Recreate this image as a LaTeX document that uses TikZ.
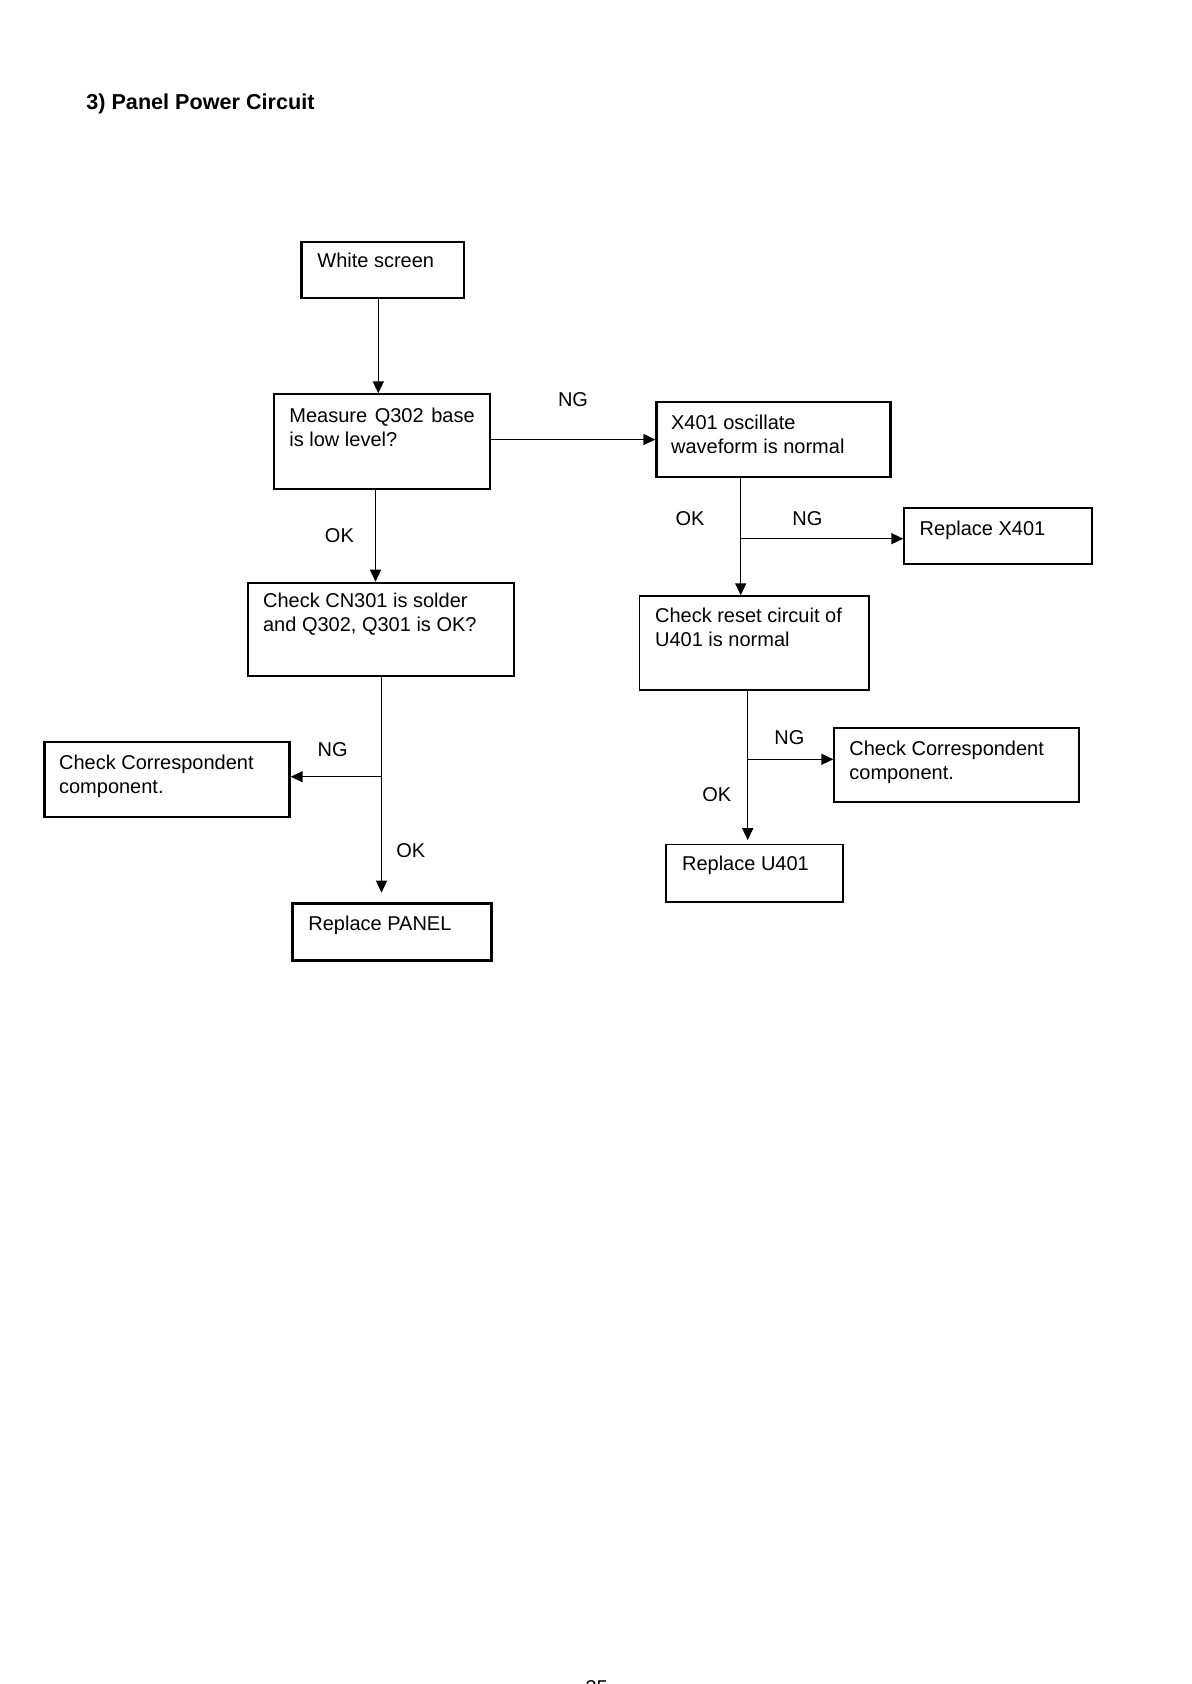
\documentclass[tikz,border=0pt]{standalone}
\usepackage{fontspec}
\setmainfont{Liberation Sans}
\usetikzlibrary{arrows.meta}
\begin{document}
\begin{tikzpicture}[x=0.5pt,y=-0.5pt,
 box/.style={draw, line width=0.7pt, inner sep=0pt, anchor=north west},
 medbox/.style={box, line width=0.9pt},
 thickbox/.style={box, line width=1.2pt},
 txt/.style={anchor=base west, inner sep=0pt, font=\fontsize{10}{12}\selectfont, align=left},
 lbl/.style={anchor=base, inner sep=0pt, font=\fontsize{10}{12}\selectfont},
 arr/.style={line width=0.75pt, -{Triangle[length=6pt,width=5.5pt]}}]
\useasboundingbox (0,0) rectangle (1191,1684);

\node[anchor=base west, inner sep=0pt, font=\fontsize{10.8}{13}\selectfont\bfseries] (title) at (86,109.3) {3) Panel Power Circuit};

% boxes (multi-line texts are placed by the baseline of their last line)
\node[thickbox, minimum width=81.35pt, minimum height=28.15pt] (ws) at (300.3,240.7) {};
\node[txt] (ws-t) at (317,268) {White screen};

\node[box, minimum width=108pt, minimum height=47.5pt] (meas) at (273.3,393.3) {};
\node[txt] (meas-t) at (289,446) {Measure\hspace{3.8pt}Q302\hspace{3.8pt}base\\is low level?};

\node[thickbox, minimum width=117pt, minimum height=37.65pt] (x401) at (655.3,400.7) {};
\node[txt] (x401-t) at (670.7,453) {X401 oscillate\\waveform is normal};

\node[medbox, minimum width=94pt, minimum height=28.3pt] (rx) at (903.3,506.7) {};
\node[txt] (rx-t) at (919.3,535) {Replace X401};

\node[box, minimum width=114.8pt, minimum height=47pt] (reset) at (638.7,595.3) {};
\node[txt] (reset-t) at (654.7,646.7) {Check reset circuit of\\U401 is normal};

\node[medbox, minimum width=133pt, minimum height=46.65pt] (cn) at (247.3,581.7) {};
\node[txt] (cn-t) at (262.7,631) {Check CN301 is solder\\and Q302, Q301 is OK?};

\node[thickbox, minimum width=122.5pt, minimum height=37.65pt] (lc) at (43.3,740.7) {};
\node[txt] (lc-t) at (58.7,793.5) {Check Correspondent\\component.};

\node[medbox, minimum width=122.5pt, minimum height=37.15pt] (rc) at (833.3,726.7) {};
\node[txt] (rc-t) at (849,779) {Check Correspondent\\component.};

\node[thickbox, minimum width=99.5pt, minimum height=28.5pt] (panel) at (291.3,902.3) {};
\node[txt] (panel-t) at (308,930) {Replace PANEL};

\node[box, minimum width=88.5pt, minimum height=28.8pt] (u401) at (665.3,843.7) {};
\node[txt] (u401-t) at (681.7,870) {Replace U401};

% junction coordinates
\coordinate (c1) at (378.3,0);
\coordinate (c2) at (375.5,0);
\coordinate (j1) at (740.7,538.7);
\coordinate (j2) at (381.5,776.7);
\coordinate (j3) at (747.7,759.3);

% connectors
\draw[arr] (ws.south -| c1) -- (meas.north -| c1);
\draw[arr] (x401.west -| meas.east) -- (x401.west);
\draw[arr] (meas.south -| c2) -- (cn.north -| c2);
\draw[arr] (x401.south -| j1) -- (reset.north -| j1);
\draw[arr] (j1) -- (rx.west |- j1);
\draw[arr, shorten >=4.8pt] (cn.south -| j2) -- (panel.north -| j2);
\draw[arr] (j2) -- (lc.east |- j2);
\draw[arr, shorten >=1.8pt] (reset.south -| j3) -- (u401.north -| j3);
\draw[arr] (j3) -- (rc.west |- j3);

% labels
\node[lbl] (l1) at (573,407) {NG};
\node[lbl] (l2) at (339.4,542) {OK};
\node[lbl] (l3) at (690,525.7) {OK};
\node[lbl] (l4) at (807.3,525.7) {NG};
\node[lbl] (l5) at (332.7,756.7) {NG};
\node[lbl] (l6) at (410.7,857.3) {OK};
\node[lbl] (l7) at (789.3,744.3) {NG};
\node[lbl] (l8) at (716.7,801.7) {OK};

% page number (cut off at page edge, as in the reference)
\node[lbl] (pg) at (596.7,1694.3) {35};
\end{tikzpicture}
\end{document}
